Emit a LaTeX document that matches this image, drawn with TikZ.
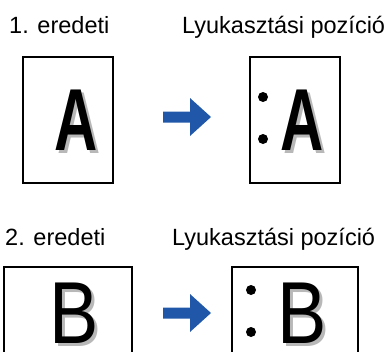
\documentclass[tikz,border=0pt]{standalone}
\usepackage{fontspec}
\setmainfont{Liberation Sans}
\definecolor{punchblue}{RGB}{33,87,168}
\tikzset{
  sheet/.style={draw=black,line width=1.6pt,fill=white},
  caption/.style={anchor=base west,inner sep=0pt,font=\fontsize{23.5}{28}\selectfont},
  hole/.style={fill=black},
  letterA/.style={anchor=base,inner sep=0pt,xscale=0.68,font=\fontsize{88}{90}\selectfont\bfseries},
  letterB/.style={anchor=base,inner sep=0pt,xscale=0.84,font=\fontsize{88}{90}\selectfont},
  shade/.style={text=black!28},
}
\begin{document}
\begin{tikzpicture}[x=1pt,y=-1pt]
\useasboundingbox (0,0) rectangle (385,351);
\clip (0,0) rectangle (385,351);
% first original
\node[caption] (cap1) at (9,33) {1. eredeti};
\node[caption] (pos1) at (182,33) {Lyukasztási pozíció};
\filldraw[sheet] (23,57) rectangle (113,183);
\node[letterA,shade] (a1s) at (79.5,153) {A};
\node[letterA] (a1) at (76.5,150) {A};
\fill[punchblue] (163,111.5) -- (190,111.5) -- (190,98) -- (211,117) -- (190,136) -- (190,122.5) -- (163,122.5) -- cycle;
\filldraw[sheet] (250,57) rectangle (340,183);
\fill[hole] (263,97) circle (5pt);
\fill[hole] (263,139) circle (5pt);
\node[letterA,shade] (a2s) at (305.5,153) {A};
\node[letterA] (a2) at (302.5,150) {A};
% second original
\node[caption] (cap2) at (5,245) {2. eredeti};
\node[caption] (pos2) at (172,245) {Lyukasztási pozíció};
\filldraw[sheet] (4,267) rectangle (132,360);
\node[letterB,shade] (b1s) at (77,346) {B};
\node[letterB] (b1) at (74,343) {B};
\fill[punchblue] (163,307.5) -- (190,307.5) -- (190,294) -- (211,313) -- (190,332) -- (190,318.5) -- (163,318.5) -- cycle;
\filldraw[sheet] (232,267) rectangle (358,360);
\fill[hole] (251,290) circle (5pt);
\fill[hole] (251,332) circle (5pt);
\node[letterB,shade] (b2s) at (305,346) {B};
\node[letterB] (b2) at (302,343) {B};
\end{tikzpicture}
\end{document}
